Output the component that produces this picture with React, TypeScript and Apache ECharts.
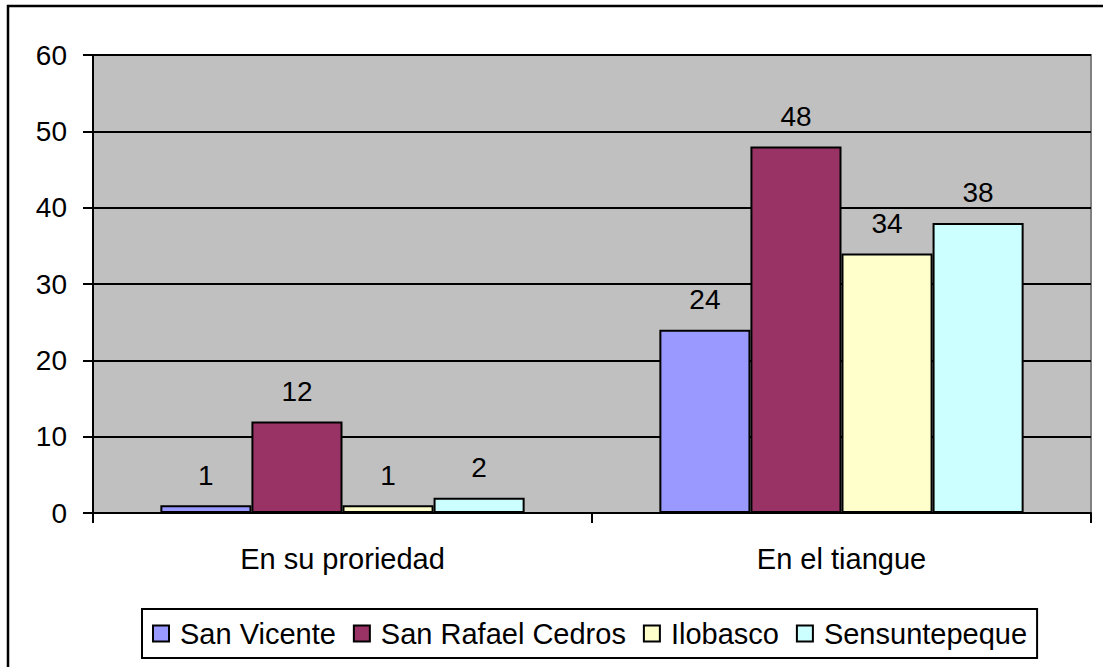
import React, { useEffect, useRef } from "react";
import * as echarts from "echarts";

const categories = ["En su proriedad", "En el tiangue"];
const seriesNames = ["San Vicente", "San Rafael Cedros", "Ilobasco", "Sensuntepeque"];
const sanVicente = [1, 24];
const sanRafaelCedros = [12, 48];
const ilobasco = [1, 34];
const sensuntepeque = [2, 38];
const seriesColors = ["#9999FF", "#993366", "#FFFFCC", "#CCFFFF"];
const yTicks = { min: 0, max: 60, interval: 10 };

const FONT = "'Liberation Sans', Arial, sans-serif";

export default function App() {
  const ref = useRef<HTMLDivElement>(null);
  useEffect(() => {
    if (!ref.current) return;
    const chart = echarts.init(ref.current, null, { renderer: "svg" });
    const values = [sanVicente, sanRafaelCedros, ilobasco, sensuntepeque];
    chart.setOption({
      animation: false,
      backgroundColor: "#ffffff",
      textStyle: { fontFamily: FONT },
      graphic: [
        {
          type: "rect",
          shape: { x: 8, y: 6, width: 1300, height: 900 },
          style: { fill: "none", stroke: "#000", lineWidth: 2.5 },
          silent: true,
          z: 100,
        },
      ],
      grid: {
        left: 93,
        top: 55,
        right: 12,
        bottom: 154,
        show: true,
        backgroundColor: "#C0C0C0",
        borderColor: "#808080",
        borderWidth: 2,
      },
      legend: {
        left: 142,
        top: 609,
        orient: "horizontal",
        itemWidth: 16,
        itemHeight: 16,
        itemGap: 17,
        padding: [10, 10, 10, 10],
        borderColor: "#000",
        borderWidth: 2,
        icon: "rect",
        textStyle: { fontSize: 29, color: "#000", fontFamily: FONT, padding: [0, 0, 0, 6] },
        data: seriesNames,
      },
      xAxis: {
        type: "category",
        data: categories,
        axisLine: { lineStyle: { color: "#000", width: 2 } },
        axisTick: { show: true, length: 10, lineStyle: { color: "#000", width: 2 } },
        axisLabel: { fontSize: 29, color: "#000", margin: 31, fontFamily: FONT },
      },
      yAxis: {
        type: "value",
        min: yTicks.min,
        max: yTicks.max,
        interval: yTicks.interval,
        axisLine: { show: true, lineStyle: { color: "#000", width: 2 } },
        axisTick: { show: true, length: 10, lineStyle: { color: "#000", width: 2 } },
        axisLabel: { fontSize: 28, color: "#000", margin: 26, fontFamily: FONT },
        splitLine: { show: true, lineStyle: { color: "#000", width: 2 } },
      },
      series: seriesNames.map((name, i) => ({
        name,
        type: "bar",
        data: values[i],
        barGap: "0%",
        barCategoryGap: "27%",
        itemStyle: { color: seriesColors[i], borderColor: "#000", borderWidth: 2 },
        label: {
          show: true,
          position: "top",
          distance: 16,
          fontSize: 28,
          color: "#000",
          fontFamily: FONT,
        },
      })),
    });
    return () => chart.dispose();
  }, []);
  return (
    <div
      ref={ref}
      style={{ position: "fixed", left: 0, top: 0, width: 1103, height: 667, background: "#fff" }}
    />
  );
}
